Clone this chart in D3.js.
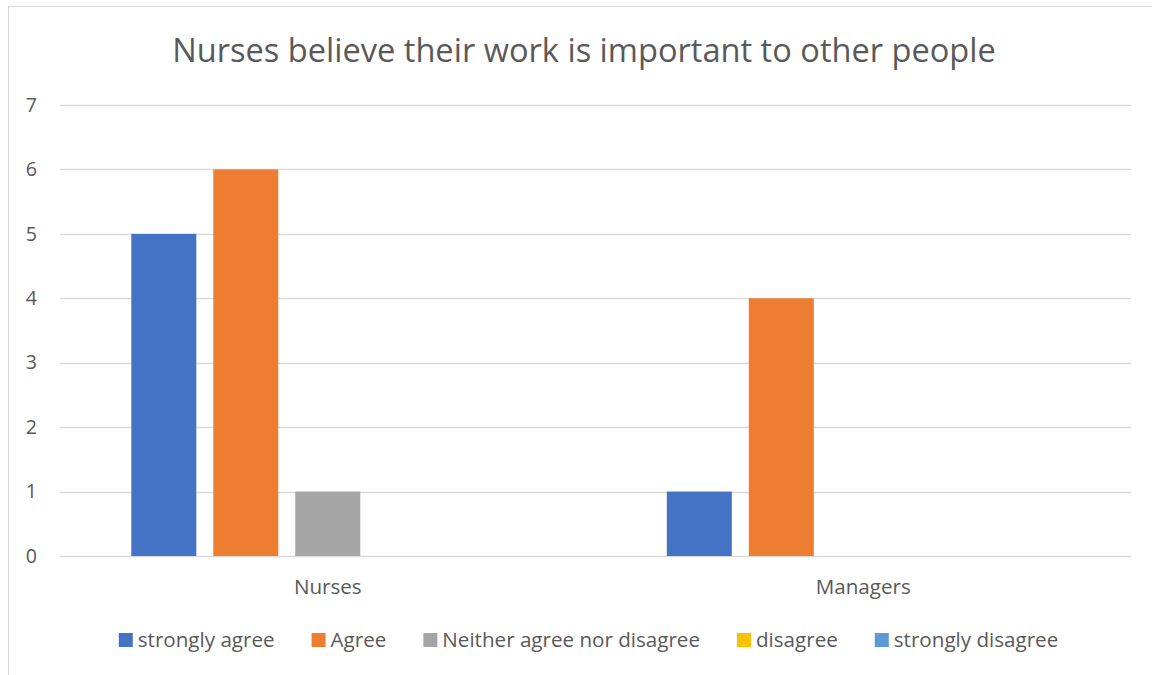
<!DOCTYPE html>
<html>
<head>
<meta charset="utf-8">
<script src="https://cdn.jsdelivr.net/npm/d3@7"></script>
<style>
  html, body { margin: 0; padding: 0; background: #fff; }
  svg { display: block; font-family: "Open Sans", "Noto Sans", sans-serif; }
</style>
</head>
<body>
<svg id="chart" width="1152" height="675"></svg>
<script>
const title = "Nurses believe their work is important to other people";
const categories = ["Nurses", "Managers"];
const seriesNames = ["strongly agree", "Agree", "Neither agree nor disagree", "disagree", "strongly disagree"];
const seriesColors = ["#4472C4", "#ED7D31", "#A5A5A5", "#FFC000", "#5B9BD5"];
// values[series][category]
const stronglyAgree = [5, 1];
const agree = [6, 4];
const neither = [1, 0];
const disagree = [0, 0];
const stronglyDisagree = [0, 0];
const yTicks = [0, 1, 2, 3, 4, 5, 6, 7];

const seriesValues = [stronglyAgree, agree, neither, disagree, stronglyDisagree];

const svg = d3.select("#chart");
const textColor = "#595959";
const gridColor = "#D9D9D9";
const labelSize = 20.6;

// chart frame
svg.append("rect")
  .attr("x", 8.5).attr("y", 6.5)
  .attr("width", 1160).attr("height", 680)
  .attr("fill", "#fff").attr("stroke", "#D9D9D9").attr("stroke-width", 1);

const plot = { left: 60, right: 1131, top: 105, bottom: 556 };

const x0 = d3.scaleBand()
  .domain(categories)
  .range([plot.left, plot.right])
  .paddingInner(0).paddingOuter(0);

const x1 = d3.scaleBand()
  .domain(d3.range(seriesNames.length))
  .range([0, x0.bandwidth()])
  .paddingInner(0.207)
  .paddingOuter(0.87);

const y = d3.scaleLinear().domain([0, 7]).range([plot.bottom, plot.top]);

// title
svg.append("text")
  .attr("x", 584).attr("y", 62)
  .attr("text-anchor", "middle")
  .attr("fill", textColor)
  .attr("font-size", 32.6)
  .text(title);

// gridlines
svg.append("g")
  .selectAll("line")
  .data(yTicks)
  .join("line")
  .attr("x1", plot.left).attr("x2", plot.right)
  .attr("y1", d => Math.round(y(d)) + 0.5)
  .attr("y2", d => Math.round(y(d)) + 0.5)
  .attr("stroke", gridColor).attr("stroke-width", 1.3);

// y axis labels
const yAxis = d3.axisLeft(y).tickValues(yTicks).tickSize(0).tickPadding(0).tickFormat(d3.format("d"));
const yg = svg.append("g").attr("transform", `translate(37,0)`).call(yAxis);
yg.select(".domain").remove();
yg.selectAll("text").attr("fill", textColor).attr("font-size", labelSize - 1)
  .attr("font-family", "'Open Sans', sans-serif");

// bars
const groups = svg.append("g")
  .selectAll("g")
  .data(categories)
  .join("g")
  .attr("transform", d => `translate(${x0(d)},0)`);

groups.selectAll("rect")
  .data((c, ci) => seriesValues.map((vals, si) => ({ si, v: vals[ci] })))
  .join("rect")
  .attr("x", d => x1(d.si))
  .attr("width", x1.bandwidth())
  .attr("y", d => y(d.v))
  .attr("height", d => y(0) - y(d.v))
  .attr("fill", d => seriesColors[d.si]);

// category labels
const xAxis = d3.axisBottom(x0).tickSize(0).tickPadding(0);
const xg = svg.append("g").attr("transform", `translate(0,594)`).call(xAxis);
xg.select(".domain").remove();
xg.selectAll("text").attr("fill", textColor).attr("font-size", labelSize)
  .attr("font-family", "'Open Sans', sans-serif").attr("dy", null).attr("y", 0);

// legend
const legend = svg.append("g");
const items = legend.selectAll("g")
  .data(seriesNames)
  .join("g");
items.append("rect")
  .attr("width", 14).attr("height", 14)
  .attr("y", -14)
  .attr("fill", (d, i) => seriesColors[i]);
items.append("text")
  .attr("x", 19)
  .attr("fill", textColor)
  .attr("font-size", labelSize)
  .text(d => d);

let cursor = 0;
const gap = 37;
const offsets = [];
items.each(function () {
  offsets.push(cursor);
  const w = 19 + d3.select(this).select("text").node().getComputedTextLength();
  cursor += w + gap;
});
const totalW = cursor - gap;
const legendStart = 588.5 - totalW / 2;
items.attr("transform", (d, i) => `translate(${legendStart + offsets[i]},647)`);
</script>
</body>
</html>
